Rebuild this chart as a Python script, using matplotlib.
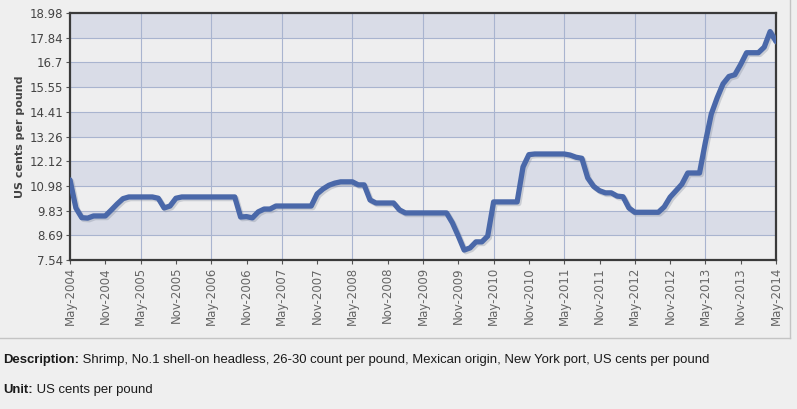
import matplotlib
matplotlib.use("Agg")
import matplotlib.pyplot as plt
import matplotlib.patheffects as pe
import numpy as np

# ---- data ----
month_labels = ["May-2004", "Nov-2004", "May-2005", "Nov-2005", "May-2006", "Nov-2006",
                "May-2007", "Nov-2007", "May-2008", "Nov-2008", "May-2009", "Nov-2009",
                "May-2010", "Nov-2010", "May-2011", "Nov-2011", "May-2012", "Nov-2012",
                "May-2013", "Nov-2013", "May-2014"]
y_ticks = [7.54, 8.69, 9.83, 10.98, 12.12, 13.26, 14.41, 15.55, 16.7, 17.84, 18.98]

prices = [
    11.25, 9.95, 9.50, 9.48, 9.58, 9.58, 9.58, 9.85, 10.13, 10.38,      # May04-Feb05
    10.46, 10.46, 10.46, 10.46, 10.46, 10.40, 9.95, 10.04, 10.40, 10.46,  # Mar05-Dec05
    10.46, 10.46, 10.46, 10.46, 10.46, 10.46, 10.46, 10.46, 10.46, 9.53,  # Jan06-Oct06
    9.55, 9.49, 9.77, 9.90, 9.90, 10.04, 10.04, 10.04, 10.04, 10.04,      # Nov06-Aug07
    10.04, 10.04, 10.60, 10.83, 11.00, 11.10, 11.16, 11.16, 11.16, 11.02,  # Sep07-Jun08
    11.02, 10.32, 10.18, 10.18, 10.18, 10.18, 9.86, 9.72, 9.72, 9.72,     # Jul08-Apr09
    9.72, 9.72, 9.72, 9.72, 9.72, 9.26, 8.65, 8.00, 8.10, 8.38,           # May09-Feb10
    8.38, 8.65, 10.23, 10.23, 10.23, 10.23, 10.23, 11.85, 12.42, 12.45,   # Mar10-Dec10
    12.45, 12.45, 12.45, 12.45, 12.45, 12.40, 12.30, 12.25, 11.34, 10.95, # Jan11-Oct11
    10.75, 10.65, 10.65, 10.50, 10.47, 9.95, 9.75, 9.75, 9.75, 9.75,      # Nov11-Aug12
    9.75, 10.00, 10.45, 10.75, 11.05, 11.57, 11.57, 11.57, 13.00, 14.30,  # Sep12-Jun13
    15.05, 15.70, 16.04, 16.12, 16.60, 17.14, 17.14, 17.14, 17.40, 18.12, # Jul13-Apr14
    17.66,                                                                 # May14
]

desc_bold = "Description:"
desc_text = " Shrimp, No.1 shell-on headless, 26-30 count per pound, Mexican origin, New York port, US cents per pound"
unit_bold = "Unit:"
unit_text = " US cents per pound"

# ---- figure ----
W, H = 797, 409
fig = plt.figure(figsize=(W / 100, H / 100), dpi=100)
fig.patch.set_facecolor("#efefef")

ax = fig.add_axes([70 / W, 1 - 260 / H, (776 - 70) / W, (260 - 13) / H])
ax.set_facecolor("#eeeeef")

# alternating bands
for i in range(len(y_ticks) - 1):
    if (len(y_ticks) - 2 - i) % 2 == 0:
        ax.axhspan(y_ticks[i], y_ticks[i + 1], color="#d9dce7", zorder=0, lw=0)

x = np.arange(len(prices))
ax.plot(x, prices, color="#4a68a9", lw=3.8, solid_joinstyle="round",
        solid_capstyle="round", zorder=5,
        path_effects=[pe.SimpleLineShadow(offset=(1.2, -1.2), shadow_color="#8890a0", alpha=0.35),
                      pe.Normal()])

ax.set_xlim(0, len(prices) - 1)
ax.set_ylim(y_ticks[0], y_ticks[-1])
tick_pos = np.arange(0, len(prices), 6)
ax.set_xticks(tick_pos)
ax.set_xticklabels(month_labels, rotation=90, fontsize=8.5, color="#666666",
                   fontfamily="DejaVu Sans")
ax.set_yticks(y_ticks)
ax.set_yticklabels([f"{v:g}" for v in y_ticks], fontsize=8.5, color="#444444")

# grid lines
for v in y_ticks[1:-1]:
    ax.axhline(v, color="#a9b4cf", lw=0.8, zorder=1)
for p in tick_pos[::2][1:-1]:
    ax.axvline(p, color="#a9b4cf", lw=0.8, zorder=1)

for s in ax.spines.values():
    s.set_color("#3a3a3a")
    s.set_linewidth(1.6)
ax.tick_params(axis="both", length=3, width=0.8, color="#555555", pad=2)

ax.set_ylabel("US cents per pound", fontsize=8, fontweight="bold", color="#444444", labelpad=3)

# panel border lines
fig.add_artist(plt.Line2D([0, 790 / W], [1 - 338 / H, 1 - 338 / H], color="#c4c4c4", lw=1,
                          transform=fig.transFigure))
fig.add_artist(plt.Line2D([790 / W, 790 / W], [1 - 338 / H, 1], color="#c4c4c4", lw=1,
                          transform=fig.transFigure))

# description texts (fit long line to reference width)
fam = ["Liberation Sans Narrow", "Liberation Sans", "DejaVu Sans"]
fig.canvas.draw()
renderer = fig.canvas.get_renderer()

probe1 = fig.text(0, 0, desc_bold, fontsize=11, fontweight="bold", family=fam)
probe2 = fig.text(0, 0, desc_text, fontsize=11, family=fam)
total = probe1.get_window_extent(renderer).width + probe2.get_window_extent(renderer).width
probe1.remove(); probe2.remove()
fs = min(11.0, 11.0 * 701.0 / total)

def two_part(ypix, bold, normal):
    t1 = fig.text(3 / W, 1 - ypix / H, bold, fontsize=fs, fontweight="bold",
                  family=fam, color="#1a1a1a", va="center", ha="left")
    bb = t1.get_window_extent(renderer=renderer)
    fig.text(bb.x1 / W, 1 - ypix / H, normal, fontsize=fs, family=fam,
             color="#1a1a1a", va="center", ha="left")

two_part(360, desc_bold, desc_text)
two_part(390, unit_bold, unit_text)

fig.savefig("out.png", dpi=100, facecolor=fig.get_facecolor())
